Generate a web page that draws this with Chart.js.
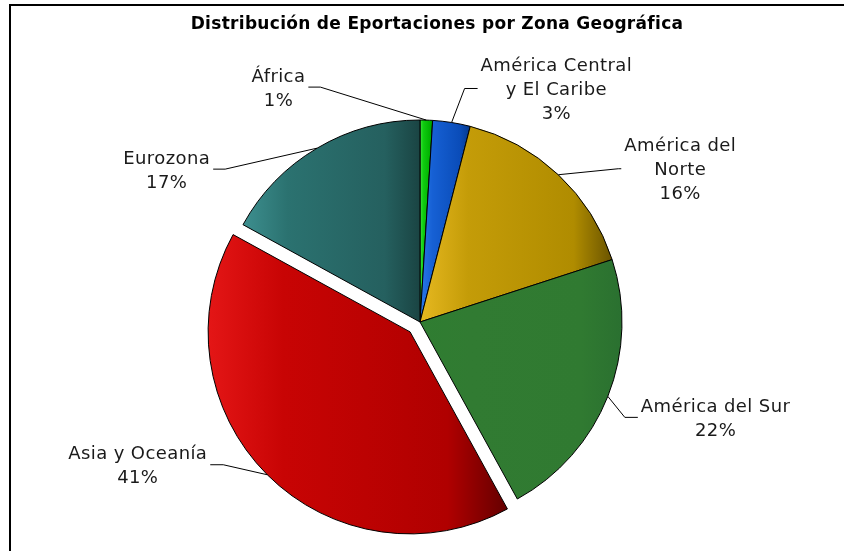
<!DOCTYPE html>
<html><head><meta charset="utf-8">
<script src="https://cdn.jsdelivr.net/npm/chart.js@4/dist/chart.umd.min.js"></script>
<style>html,body{margin:0;padding:0;background:#fff}#wrap{width:844px;height:551px;position:relative}</style>
</head><body><div id="wrap"><canvas id="c" width="844" height="551"></canvas></div>
<script>
// ---- data ----
const chartTitle = 'Distribución de Eportaciones por Zona Geográfica';
const categories = ['África', 'América Central y El Caribe', 'América del Norte', 'América del Sur', 'Asia y Oceanía', 'Eurozona'];
const labelLines = [['África'], ['América Central', 'y El Caribe'], ['América del', 'Norte'], ['América del Sur'], ['Asia y Oceanía'], ['Eurozona']];
const shares = [1, 3, 16, 22, 41, 17];

// ---- style ----
const gradStops = [
  ['#3ee83e', '#10cc10', '#00b000', '#008a00'],
  ['#2a78e8', '#1660d4', '#0a4cb8', '#063a8c'],
  ['#e6b820', '#c49c08', '#b08c00', '#6a5400'],
  ['#2f7d31', '#317b32', '#307a31', '#2a7030'],
  ['#e41616', '#c80404', '#b00000', '#640000'],
  ['#3d8f8f', '#2b7270', '#25605f', '#1a4443']
];
const explode = [0, 0, 0, 0, 14, 0];
const leaderElbow = [[-106, -33], [13, -34], [60, -6], [17, 21], [-44, -10], [-92, 21]];
const leaderTail = [-12, 13, 3, 13, -13, -12];
const PIE_R = 202;
const LABEL_FONT = '18px "DejaVu Sans"';
const LABEL_SPACING = '0.4px';
const LINE_H = 24;

const total = shares.reduce((a, b) => a + b, 0);
const pctLabels = shares.map(v => Math.round(v / total * 100) + '%');

function sliceAngles(i) {
  let s = -Math.PI / 2;
  for (let k = 0; k < i; k++) s += shares[k] / total * 2 * Math.PI;
  return [s, s + shares[i] / total * 2 * Math.PI];
}
function fillFn(c) {
  const chart = c.chart, ca = chart.chartArea, i = c.dataIndex;
  const st = gradStops[i];
  if (!ca || i === undefined) return st[1];
  const cx = (ca.left + ca.right) / 2;
  const [a0, a1] = sliceAngles(i);
  const xs = [cx, cx + PIE_R * Math.cos(a0), cx + PIE_R * Math.cos(a1)];
  if (a0 <= 0 && a1 >= 0) xs.push(cx + PIE_R);
  if (a0 <= Math.PI && a1 >= Math.PI) xs.push(cx - PIE_R);
  const x0 = Math.min(...xs), x1 = Math.max(...xs);
  const g = chart.ctx.createLinearGradient(x0, 0, x1, 0);
  g.addColorStop(0, st[0]);
  g.addColorStop(0.25, st[1]);
  g.addColorStop(0.8, st[2]);
  g.addColorStop(1, st[3]);
  return g;
}

const framePlugin = {
  id: 'frame',
  beforeDraw(chart) {
    const ctx = chart.ctx;
    ctx.save();
    ctx.fillStyle = '#fff';
    ctx.fillRect(0, 0, chart.width, chart.height);
    ctx.fillStyle = '#000';
    ctx.fillRect(9, 4, chart.width, 2);
    ctx.fillRect(9, 4, 2, chart.height);
    ctx.font = 'bold 17px "DejaVu Sans"';
    ctx.letterSpacing = '0.3px';
    ctx.textAlign = 'center';
    ctx.textBaseline = 'middle';
    ctx.fillText(chartTitle, 437, 25);
    ctx.restore();
  }
};

const explodePlugin = {
  id: 'explode',
  beforeDatasetDraw(chart, args) {
    const ctx = chart.ctx;
    args.meta.data.forEach((arc, i) => {
      ctx.save();
      if (explode[i]) {
        const a = (arc.startAngle + arc.endAngle) / 2;
        ctx.translate(Math.cos(a) * explode[i], Math.sin(a) * explode[i]);
      }
      arc.draw(ctx);
      ctx.restore();
    });
    return false;
  }
};

const labelPlugin = {
  id: 'pieLabels',
  afterDatasetsDraw(chart) {
    const ctx = chart.ctx;
    const meta = chart.getDatasetMeta(0);
    ctx.save();
    ctx.font = LABEL_FONT;
    ctx.letterSpacing = LABEL_SPACING;
    ctx.textBaseline = 'middle';
    ctx.textAlign = 'center';
    meta.data.forEach((arc, i) => {
      const a = (arc.startAngle + arc.endAngle) / 2;
      const ex = arc.x + Math.cos(a) * (arc.outerRadius + explode[i]);
      const ey = arc.y + Math.sin(a) * (arc.outerRadius + explode[i]);
      const bx = ex + leaderElbow[i][0], by = ey + leaderElbow[i][1];
      const tx = bx + leaderTail[i];
      ctx.strokeStyle = '#000';
      ctx.lineWidth = 1;
      ctx.beginPath();
      ctx.moveTo(ex, ey); ctx.lineTo(bx, by); ctx.lineTo(tx, by);
      ctx.stroke();
      const lines = labelLines[i].concat([pctLabels[i]]);
      const w = Math.max(...lines.map(t => ctx.measureText(t).width));
      const left = (tx < bx || leaderElbow[i][0] < 0) ? tx - 3 - w : tx + 3;
      const midX = left + w / 2;
      const top = by + 2 - (lines.length - 1) * LINE_H / 2;
      ctx.fillStyle = '#1a1a1a';
      lines.forEach((t, k) => ctx.fillText(t, midX, top + k * LINE_H));
    });
    ctx.restore();
  }
};

new Chart(document.getElementById('c'), {
  type: 'pie',
  data: {
    labels: categories,
    datasets: [{
      data: shares,
      backgroundColor: fillFn,
      borderColor: '#000',
      borderWidth: 1,
      radius: PIE_R
    }]
  },
  options: {
    responsive: false,
    animation: false,
    events: [],
    layout: { padding: { left: 20, right: 24, top: 100, bottom: 7 } },
    plugins: { legend: { display: false }, tooltip: { enabled: false }, title: { display: false } }
  },
  plugins: [framePlugin, explodePlugin, labelPlugin]
});
</script>
</body></html>
